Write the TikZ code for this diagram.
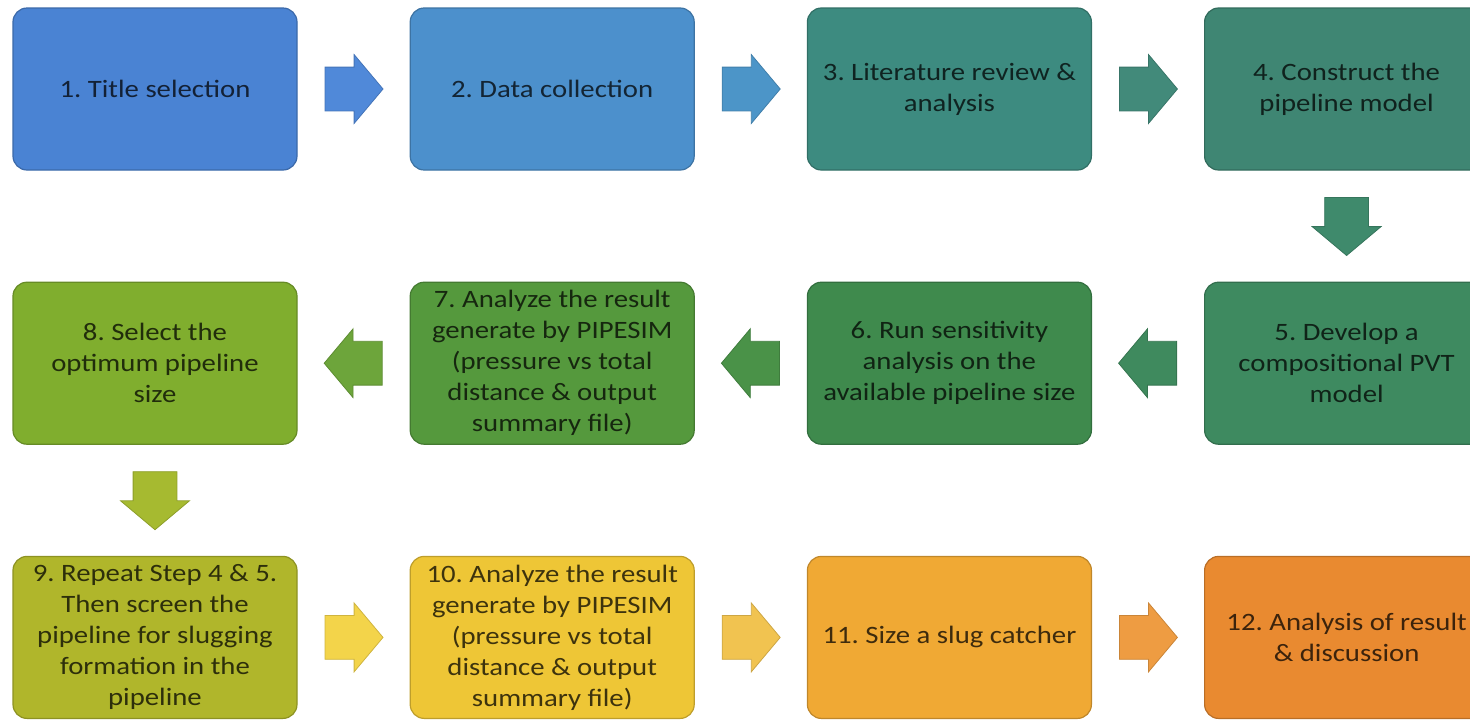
\documentclass[tikz,border=0pt]{standalone}
\usepackage{fontspec}
\setmainfont[FakeStretch=1.15]{Carlito}
\frenchspacing
\usetikzlibrary{positioning,calc,shapes.arrows}
\definecolor{cst1}{HTML}{4A83D3}
\definecolor{cst2}{HTML}{4C90CC}
\definecolor{cst3}{HTML}{3D8B80}
\definecolor{cst4}{HTML}{3F8673}
\definecolor{cst5}{HTML}{3E8A60}
\definecolor{cst6}{HTML}{3F8A4D}
\definecolor{cst7}{HTML}{55993D}
\definecolor{cst8}{HTML}{80AE2E}
\definecolor{cst9}{HTML}{B0B62B}
\definecolor{cst10}{HTML}{EEC636}
\definecolor{cst11}{HTML}{F0A934}
\definecolor{cst12}{HTML}{E98A30}
\definecolor{car1}{HTML}{5089D9}
\definecolor{car2}{HTML}{4C95C8}
\definecolor{car3}{HTML}{428A7A}
\definecolor{car4}{HTML}{3F8A6C}
\definecolor{car5}{HTML}{3F8A5E}
\definecolor{car6}{HTML}{4A9248}
\definecolor{car7}{HTML}{6DA53B}
\definecolor{car8}{HTML}{A6BA30}
\definecolor{car9}{HTML}{F3D44A}
\definecolor{car10}{HTML}{F1C350}
\definecolor{car11}{HTML}{EE9C42}
\tikzset{
  stepbox/.style={rectangle, rounded corners=7pt, fill=#1, draw=#1!80!black, line width=0.6pt, minimum width=142pt, minimum height=81pt, inner sep=2pt, align=center, text=black, text opacity=0.74},
  blockarrow/.style={single arrow, anchor=tail, fill=#1, draw=#1!85!black, line width=0.4pt, minimum height=29pt, single arrow head extend=6.25pt, single arrow tip angle=100, inner sep=0pt},
}
\newcommand{\shaft}{\rule{0pt}{21.5pt}}

\begin{document}
\begin{tikzpicture}[font=\fontsize{12.5}{15.5}\selectfont, node distance=55.5pt and 56pt]
\useasboundingbox (0,0) rectangle (735pt,-359.5pt);
% row 1, left to right
\node[stepbox=cst1] (title) at (77.5pt,-44.5pt) {1. Title selection};
\node[stepbox=cst2, right=of title] (data) {2. Data collection};
\node[stepbox=cst3, right=of data] (lit) {3. Literature review \&\\ analysis};
\node[stepbox=cst4, right=of lit] (model) {4. Construct the\\ pipeline model};
% row 2, right to left
\node[stepbox=cst5, below=of model] (pvt) {5. Develop a\\ compositional PVT\\ model};
\node[stepbox=cst6, left=of pvt] (sens) {6. Run sensitivity\\ analysis on the\\ available pipeline size};
\node[stepbox=cst7, left=of sens] (res) {7. Analyze the result\\ generate by PIPESIM\\ (pressure vs total\\ distance \& output\\ summary file)};
\node[stepbox=cst8, left=of res] (opt) {8. Select the\\ optimum pipeline\\ size};
% row 3, left to right
\node[stepbox=cst9, below=of opt] (slug) {9. Repeat Step 4 \& 5.\\ Then screen the\\ pipeline for slugging\\ formation in the\\ pipeline};
\node[stepbox=cst10, right=of slug] (resb) {10. Analyze the result\\ generate by PIPESIM\\ (pressure vs total\\ distance \& output\\ summary file)};
\node[stepbox=cst11, right=of resb] (catch) {11. Size a slug catcher};
\node[stepbox=cst12, right=of catch] (disc) {12. Analysis of result\\ \& discussion};
% block arrows between the steps, tail set half a length back from the gap centre
\node[blockarrow=car1] (a1) at ($(title.east)!0.5!(data.west)+(-14.5pt,0)$) {\shaft};
\node[blockarrow=car2] (a2) at ($(data.east)!0.5!(lit.west)+(-14.5pt,0)$) {\shaft};
\node[blockarrow=car3] (a3) at ($(lit.east)!0.5!(model.west)+(-14.5pt,0)$) {\shaft};
\node[blockarrow=car4, rotate=-90] (a4) at ($(model.south)!0.5!(pvt.north)+(0,14.5pt)$) {\shaft};
\node[blockarrow=car5, rotate=180] (a5) at ($(pvt.west)!0.5!(sens.east)+(14.5pt,0)$) {\shaft};
\node[blockarrow=car6, rotate=180] (a6) at ($(sens.west)!0.5!(res.east)+(14.5pt,0)$) {\shaft};
\node[blockarrow=car7, rotate=180] (a7) at ($(res.west)!0.5!(opt.east)+(14.5pt,0)$) {\shaft};
\node[blockarrow=car8, rotate=-90] (a8) at ($(opt.south)!0.5!(slug.north)+(0,14.5pt)$) {\shaft};
\node[blockarrow=car9] (a9) at ($(slug.east)!0.5!(resb.west)+(-14.5pt,0)$) {\shaft};
\node[blockarrow=car10] (a10) at ($(resb.east)!0.5!(catch.west)+(-14.5pt,0)$) {\shaft};
\node[blockarrow=car11] (a11) at ($(catch.east)!0.5!(disc.west)+(-14.5pt,0)$) {\shaft};
\end{tikzpicture}
\end{document}
